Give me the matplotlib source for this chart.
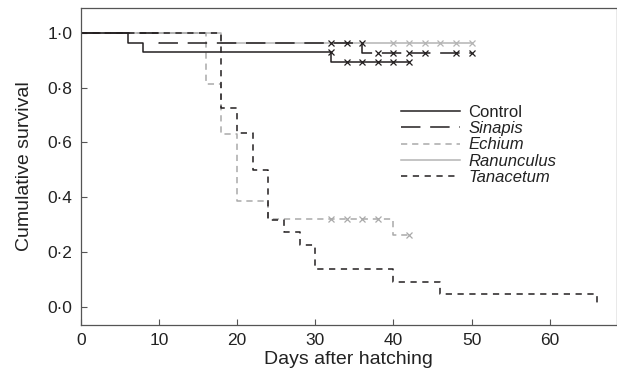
import matplotlib
matplotlib.use("Agg")
import matplotlib.pyplot as plt
from matplotlib.lines import Line2D

plt.rcParams['font.family'] = ['Liberation Sans', 'DejaVu Sans']
plt.rcParams['lines.scale_dashes'] = False

# Kaplan-Meier steps (days, survival)
control_days = [0, 6, 8, 32, 42]
control_surv = [1.0, 0.964, 0.929, 0.893, 0.893]
control_cens_days = [32, 34, 36, 38, 40, 42]
control_cens_surv = [0.929, 0.893, 0.893, 0.893, 0.893, 0.893]

sinapis_days = [0, 10, 36, 50]
sinapis_surv = [1.0, 0.963, 0.926, 0.926]
sinapis_cens_days = [32, 34, 36, 38, 40, 42, 44, 48, 50]
sinapis_cens_surv = [0.963, 0.963, 0.963, 0.926, 0.926, 0.926, 0.926, 0.926, 0.926]

echium_days = [0, 16, 18, 20, 24, 40, 42]
echium_surv = [1.0, 0.815, 0.63, 0.385, 0.32, 0.26, 0.26]
echium_cens_days = [32, 34, 36, 38, 42]
echium_cens_surv = [0.32, 0.32, 0.32, 0.32, 0.26]

ranunculus_days = [0, 18, 50]
ranunculus_surv = [1.0, 0.963, 0.963]
ranunculus_cens_days = [40, 42, 44, 46, 48, 50]
ranunculus_cens_surv = [0.963] * 6

tanacetum_days = [0, 18, 20, 22, 24, 26, 28, 30, 40, 46, 66]
tanacetum_surv = [1.0, 0.727, 0.636, 0.5, 0.318, 0.273, 0.227, 0.136, 0.091, 0.045, 0.0]

y_ticks = [0.0, 0.2, 0.4, 0.6, 0.8, 1.0]
y_tick_labels = ['0·0', '0·2', '0·4', '0·6', '0·8', '1·0']
x_ticks = [0, 10, 20, 30, 40, 50, 60]

black = '#231f20'
grey_r = '#b4b4b4'
grey_e = '#aaaaaa'

fig = plt.figure(figsize=(6.17, 3.74), dpi=100)
ax = fig.add_axes([0.1308, 0.131, 0.8692, 0.8476])

lw = 1.1
ax.plot(ranunculus_days, ranunculus_surv, drawstyle='steps-post', color=grey_r, lw=lw,
        label='Ranunculus')
ax.plot(echium_days, echium_surv, drawstyle='steps-post', color=grey_e, lw=lw,
        dashes=(4.5, 3.5), label='Echium')
ax.plot(control_days, control_surv, drawstyle='steps-post', color=black, lw=lw,
        label='Control')
ax.plot(sinapis_days, sinapis_surv, drawstyle='steps-post', color=black, lw=lw,
        dashes=(14, 7), label='Sinapis')
ax.plot(tanacetum_days, tanacetum_surv, drawstyle='steps-post', color=black, lw=lw,
        dashes=(4.5, 4), label='Tanacetum')

# censored observations
ms = 5
ax.plot(ranunculus_cens_days, ranunculus_cens_surv, 'x', color=grey_r, ms=ms, mew=0.9)
ax.plot(echium_cens_days, echium_cens_surv, 'x', color=grey_e, ms=ms, mew=0.9)
ax.plot(control_cens_days, control_cens_surv, 'x', color=black, ms=ms, mew=0.9)
ax.plot(sinapis_cens_days, sinapis_cens_surv, 'x', color=black, ms=ms, mew=0.9)

ax.set_xlim(0, 68.6)
ax.set_ylim(-0.067, 1.091)
ax.set_xticks(x_ticks)
ax.set_yticks(y_ticks)
ax.set_yticklabels(y_tick_labels)
ax.tick_params(direction='in', length=4.5, width=0.8, color='#555555',
               labelsize=12.5, pad=6, labelcolor='#222222')
for sp in ax.spines.values():
    sp.set_color('#555555')
    sp.set_linewidth(0.9)

ax.set_xlabel('Days after hatching', fontsize=14, color='#222222', labelpad=2)
ax.set_ylabel('Cumulative survival', fontsize=14, color='#222222', labelpad=10)

handles = [
    Line2D([], [], color=black, lw=lw),
    Line2D([], [], color=black, lw=lw, dashes=(14, 7)),
    Line2D([], [], color=grey_e, lw=lw, dashes=(4.5, 3.5)),
    Line2D([], [], color=grey_r, lw=lw),
    Line2D([], [], color=black, lw=lw, dashes=(4.5, 4)),
]
labels = ['Control', 'Sinapis', 'Echium', 'Ranunculus', 'Tanacetum']
leg = ax.legend(handles, labels, loc='upper left', bbox_to_anchor=(0.598, 0.695),
                frameon=False, fontsize=12, handlelength=3.5, handletextpad=0.5,
                labelspacing=0.08, borderpad=0, borderaxespad=0)
for t in leg.get_texts()[1:]:
    t.set_style('italic')
for t in leg.get_texts():
    t.set_color('#222222')

fig.savefig('out.png', dpi=100)
